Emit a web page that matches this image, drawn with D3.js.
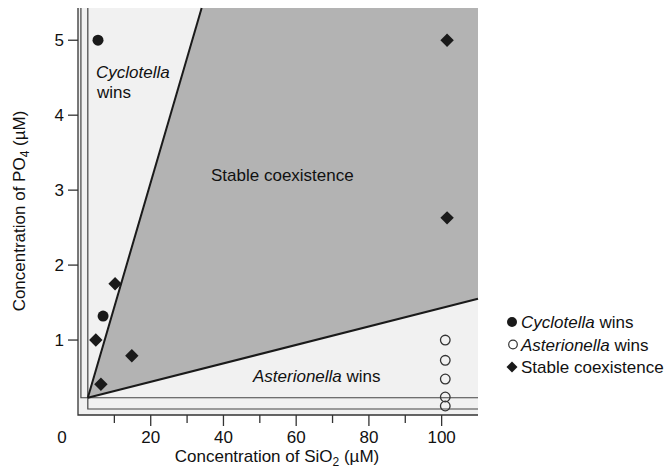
<!DOCTYPE html>
<html><head><meta charset="utf-8">
<script src="https://cdn.jsdelivr.net/npm/d3@7"></script>
<style>
html,body{margin:0;padding:0;background:#fff;}
text{font-family:"Liberation Sans",Arial,Helvetica,sans-serif;fill:#111;}
</style></head>
<body><svg id="c" width="666" height="469"></svg>
<script>
// ---- data ----
const xDomain = [0, 110];
const yDomain = [0, 5.43];
const xTicksMajor = [20, 40, 60, 80, 100];
const xTicksMinor = [10, 30, 50, 70, 90];
const yTicks = [1, 2, 3, 4, 5];
// coexistence wedge (SiO2, PO4)
const wedgeApex = [2.7, 0.23];
const wedgeUpperEnd = [34, 5.43];
const wedgeLowerEnd = [110, 1.55];
// zero net growth isoclines (L-shaped)
const zngiCyclotella = [[0.8, 5.43], [0.8, 0.23], [110, 0.23]];
const zngiAsterionella = [[2.7, 5.43], [2.7, 0.08], [110, 0.08]];
// experiments
const cyclotellaWins = [[5.5, 5.0], [6.9, 1.32]];
const asterionellaWins = [[101, 1.0], [101, 0.73], [101, 0.48], [101, 0.24], [101, 0.12]];
const coexistence = [[101.5, 5.0], [101.5, 2.63], [10.2, 1.75], [4.9, 1.0], [14.8, 0.79], [6.3, 0.41]];
const legendItems = [
  {type:"filled", italic:"Cyclotella", rest:" wins"},
  {type:"open", italic:"Asterionella", rest:" wins"},
  {type:"diamond", italic:"", rest:"Stable coexistence"}
];

const svg = d3.select("#c");
const x = d3.scaleLinear().domain(xDomain).range([78, 478]);
const y = d3.scaleLinear().domain(yDomain).range([415, 8]);

// light background of plot area
svg.append("rect").attr("x", x(0)).attr("y", y(yDomain[1]))
  .attr("width", x(xDomain[1]) - x(0)).attr("height", y(0) - y(yDomain[1]))
  .attr("fill", "#f1f1f1");

// wedge
const wedgePoly = [wedgeApex, wedgeUpperEnd, [xDomain[1], yDomain[1]], wedgeLowerEnd];
svg.append("path")
  .attr("d", d3.line().x(d => x(d[0])).y(d => y(d[1]))(wedgePoly) + "Z")
  .attr("fill", "#b3b3b3");

// ZNGI lines
const line = d3.line().x(d => x(d[0])).y(d => y(d[1]));
[zngiCyclotella, zngiAsterionella].forEach(z => {
  svg.append("path").attr("d", line(z)).attr("fill", "none")
    .attr("stroke", "#444").attr("stroke-width", 1.2);
});

// wedge boundary lines
[[wedgeApex, wedgeUpperEnd], [wedgeApex, wedgeLowerEnd]].forEach(s => {
  svg.append("path").attr("d", line(s)).attr("fill", "none")
    .attr("stroke", "#1a1a1a").attr("stroke-width", 2);
});

// axes lines
svg.append("path").attr("d", line([[0, yDomain[1]], [0, 0], [xDomain[1], 0]]))
  .attr("fill", "none").attr("stroke", "#333").attr("stroke-width", 1.3);

// y ticks
const gy = svg.append("g");
yTicks.forEach(t => {
  gy.append("line").attr("x1", x(0) - 10).attr("x2", x(0)).attr("y1", y(t)).attr("y2", y(t))
    .attr("stroke", "#333").attr("stroke-width", 1.3);
  gy.append("text").attr("x", x(0) - 14).attr("y", y(t) + 6).attr("text-anchor", "end")
    .attr("font-size", 17).text(t);
});
// x ticks
const gx = svg.append("g");
xTicksMajor.forEach(t => {
  gx.append("line").attr("x1", x(t)).attr("x2", x(t)).attr("y1", y(0)).attr("y2", y(0) + 11)
    .attr("stroke", "#333").attr("stroke-width", 1.3);
  gx.append("text").attr("x", x(t)).attr("y", y(0) + 28).attr("text-anchor", "middle")
    .attr("font-size", 17).text(t);
});
xTicksMinor.forEach(t => {
  gx.append("line").attr("x1", x(t)).attr("x2", x(t)).attr("y1", y(0)).attr("y2", y(0) + 8)
    .attr("stroke", "#333").attr("stroke-width", 1.3);
});
// origin label
svg.append("text").attr("x", x(0) - 16).attr("y", y(0) + 28).attr("text-anchor", "middle")
  .attr("font-size", 17).text("0");

// axis titles
const xt = svg.append("text").attr("x", 277).attr("y", 462).attr("text-anchor", "middle").attr("font-size", 17);
xt.append("tspan").text("Concentration of SiO");
xt.append("tspan").attr("font-size", 12).attr("dy", 4).text("2");
xt.append("tspan").attr("dy", -4).text(" (\u00b5M)");
const yt = svg.append("text").attr("transform", "translate(25,211) rotate(-90)")
  .attr("text-anchor", "middle").attr("font-size", 17);
yt.append("tspan").text("Concentration of PO");
yt.append("tspan").attr("font-size", 12).attr("dy", 4).text("4");
yt.append("tspan").attr("dy", -4).text(" (\u00b5M)");

// region labels
svg.append("text").attr("x", 96).attr("y", 78).attr("font-size", 17).attr("font-style", "italic").text("Cyclotella");
svg.append("text").attr("x", 97).attr("y", 98).attr("font-size", 17).text("wins");
svg.append("text").attr("x", 211).attr("y", 181).attr("font-size", 17).text("Stable coexistence");
const al = svg.append("text").attr("x", 253).attr("y", 382).attr("font-size", 17);
al.append("tspan").attr("font-style", "italic").text("Asterionella");
al.append("tspan").text(" wins");

// markers
const diamond = d3.symbol().type(d3.symbolSquare).size(90);
svg.append("g").selectAll("circle").data(cyclotellaWins).join("circle")
  .attr("cx", d => x(d[0])).attr("cy", d => y(d[1])).attr("r", 5.5).attr("fill", "#1a1a1a");
svg.append("g").selectAll("circle").data(asterionellaWins).join("circle")
  .attr("cx", d => x(d[0])).attr("cy", d => y(d[1])).attr("r", 4.8)
  .attr("fill", "none").attr("stroke", "#333").attr("stroke-width", 1.3);
svg.append("g").selectAll("path").data(coexistence).join("path")
  .attr("d", diamond)
  .attr("transform", d => `translate(${x(d[0])},${y(d[1])}) rotate(45)`)
  .attr("fill", "#1a1a1a");

// legend
const lg = svg.append("g");
legendItems.forEach((it, i) => {
  const cy = 322 + i * 22.5;
  if (it.type === "filled") lg.append("circle").attr("cx", 512).attr("cy", cy).attr("r", 5).attr("fill", "#1a1a1a");
  if (it.type === "open") lg.append("circle").attr("cx", 513).attr("cy", cy).attr("r", 4.3).attr("fill", "none").attr("stroke", "#333").attr("stroke-width", 1.2);
  if (it.type === "diamond") lg.append("path").attr("d", d3.symbol().type(d3.symbolSquare).size(60))
    .attr("transform", `translate(512,${cy}) rotate(45)`).attr("fill", "#1a1a1a");
  const t = lg.append("text").attr("x", 521).attr("y", cy + 6).attr("font-size", 17);
  if (it.italic) t.append("tspan").attr("font-style", "italic").text(it.italic);
  t.append("tspan").text(it.rest);
});
</script></body></html>
